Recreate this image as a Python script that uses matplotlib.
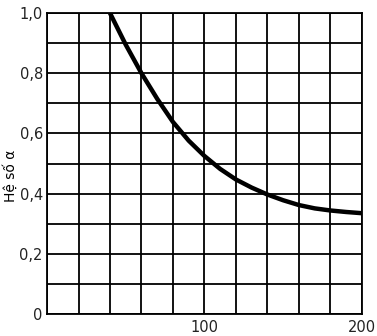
import numpy as np
import matplotlib.pyplot as plt
from matplotlib.ticker import MultipleLocator, FuncFormatter

# Values
x_vals = [40, 50, 60, 70, 80, 90, 100, 110, 120, 130, 140, 150, 160, 170, 180, 190, 200]
alpha_vals = [1.0, 0.895, 0.80, 0.715, 0.638, 0.576, 0.525, 0.482, 0.447, 0.42, 0.397,
              0.378, 0.362, 0.351, 0.344, 0.339, 0.335]
x_tick_labels = [100, 200]
y_tick_values = [0, 0.2, 0.4, 0.6, 0.8, 1.0]

fig = plt.figure(figsize=(3.77, 3.36), dpi=100)
ax = fig.add_axes([0.1247, 0.0655, 0.8353, 0.8955])

ax.plot(x_vals, alpha_vals, color="black", linewidth=3.2, solid_capstyle="butt", zorder=3)

ax.set_xlim(0, 200)
ax.set_ylim(0, 1.0)

# grid every 20 / 0.1
ax.xaxis.set_minor_locator(MultipleLocator(20))
ax.yaxis.set_minor_locator(MultipleLocator(0.1))
ax.grid(which="both", color="black", linewidth=1.3)
ax.set_axisbelow(True)

ax.set_xticks(x_tick_labels)
ax.set_yticks(y_tick_values)
ax.yaxis.set_major_formatter(FuncFormatter(lambda v, p: "0" if v == 0 else f"{v:.1f}".replace(".", ",")))
ax.tick_params(which="both", length=0, labelsize=10.5, colors="#222222")
ax.tick_params(axis="y", pad=3)
ax.tick_params(axis="x", pad=4)

for s in ax.spines.values():
    s.set_linewidth(1.3)
    s.set_color("black")

ax.set_ylabel("Hệ số α", fontsize=10)
ax.yaxis.set_label_coords(-0.092, 0.46)

fig.savefig("out.png", dpi=100)
